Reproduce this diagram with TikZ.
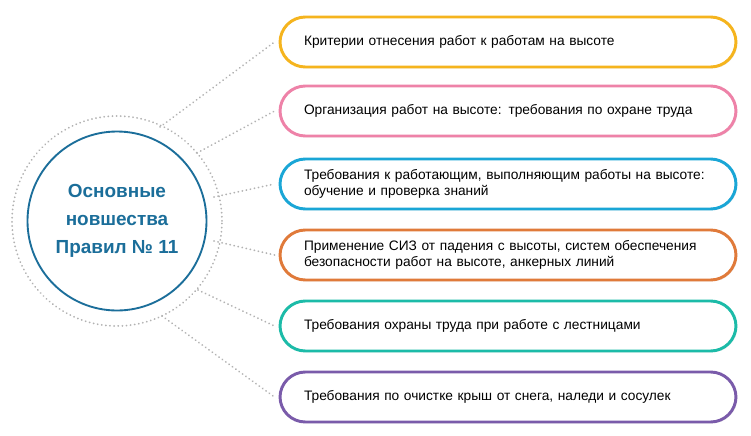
\documentclass[tikz,border=0pt]{standalone}
\usepackage{fontspec}
\setmainfont{Liberation Sans}
\usetikzlibrary{shadows}
\definecolor{cy}{HTML}{F5B41E}
\definecolor{cp}{HTML}{EE82A8}
\definecolor{cb}{HTML}{1AA6D6}
\definecolor{co}{HTML}{E07A3A}
\definecolor{ct}{HTML}{1CBBA8}
\definecolor{cv}{HTML}{7A5BAA}
\definecolor{cc}{HTML}{1B6E9A}
\begin{document}
\begin{tikzpicture}[x=0.75pt,y=-0.75pt,
  item/.style={draw=#1,line width=2.2pt,rounded corners=19pt,fill=white,minimum width=456*0.75pt,minimum height=50*0.75pt,text width=408*0.75pt,align=left,inner sep=0pt,font=\fontsize{10.3}{12.3}\selectfont,drop shadow={shadow xshift=1pt,shadow yshift=-1pt,opacity=0.15}},
  dots/.style={gray!60,line width=1.4pt,dash pattern=on 0.1pt off 3pt,line cap=round}]
\useasboundingbox (0,0) rectangle (751,436);
\fill[white] (0,0) rectangle (751,436);
\node[circle,draw=gray!60,line width=1.4pt,dash pattern=on 0.1pt off 3pt,line cap=round,minimum size=210*0.75pt] (outer) at (117,221) {};
\node[circle,draw=cc,line width=1.4pt,fill=white,minimum size=179*0.75pt,align=center,text=cc,font=\fontsize{14.2}{21}\selectfont\bfseries] (c) at (117,221) {Основные\\новшества\\Правил № 11};
\node[item=cy] (b1) at (508,42) {Критерии отнесения работ к работам на высоте};
\node[item=cp] (b2) at (508,111) {Организация работ на высоте: требования по охране труда};
\node[item=cb] (b3) at (508,184) {Требования к работающим, выполняющим работы на высоте:\\обучение и проверка знаний};
\node[item=co] (b4) at (508,255) {Применение СИЗ от падения с высоты, систем обеспечения\\безопасности работ на высоте, анкерных линий};
\node[item=ct] (b5) at (508,326) {Требования охраны труда при работе с лестницами};
\node[item=cv] (b6) at (508,397) {Требования по очистке крыш от снега, наледи  и сосулек};
\coordinate (s1) at (160,127); \coordinate (s2) at (197,153);
\coordinate (s3) at (214,197); \coordinate (s4) at (214,241);
\coordinate (s5) at (198,290); \coordinate (s6) at (162,316);
\foreach \i in {1,...,6} \draw[dots] (s\i) -- ([xshift=-3pt]b\i.west);
\end{tikzpicture}
\end{document}
